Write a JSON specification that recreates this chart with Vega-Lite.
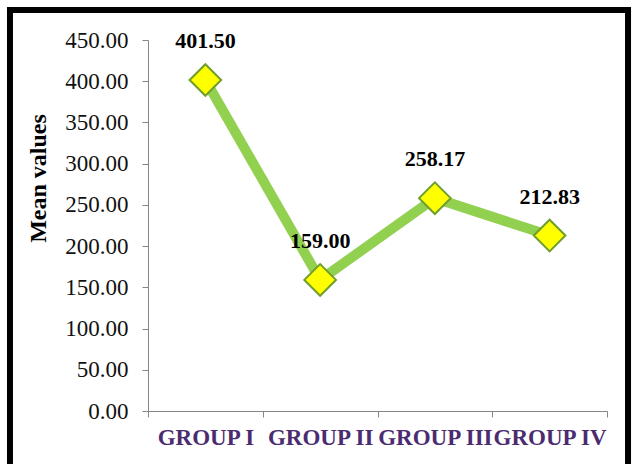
{
  "$schema": "https://vega.github.io/schema/vega-lite/v6.json",
  "width": 459,
  "height": 371,
  "autosize": {"type": "none"},
  "padding": {"left": 148, "top": 40, "right": 26, "bottom": 53},
  "background": "white",
  "config": {"view": {"stroke": null}, "font": "Liberation Serif, Times New Roman, serif"},
  "data": {"values": [
    {"group": "GROUP I", "mean": 401.5},
    {"group": "GROUP II", "mean": 159.0},
    {"group": "GROUP III", "mean": 258.17},
    {"group": "GROUP IV", "mean": 212.83}
  ]},
  "layer": [
    {
      "data": {"values": [{"frame": 1}]},
      "mark": {"type": "rect", "fill": null, "stroke": "black", "strokeWidth": 6},
      "encoding": {
        "x": {"datum": -0.3007, "type": "quantitative", "scale": {"domain": [0, 1]}, "axis": null},
        "x2": {"datum": 1.0458},
        "y": {"datum": 1.0809, "type": "quantitative", "scale": {"domain": [0, 1]}, "axis": null},
        "y2": {"datum": -0.3}
      }
    },
    {
      "layer": [
        {
          "mark": {"type": "line", "color": "#92d050", "strokeWidth": 10},
          "encoding": {}
        },
        {
          "mark": {"type": "point", "shape": "diamond", "size": 1000, "filled": true, "fill": "#ffff00", "stroke": "#6f9e2e", "strokeWidth": 2, "opacity": 1},
          "encoding": {}
        },
        {
          "mark": {"type": "text", "dy": -39, "fontSize": 22, "fontWeight": "bold", "color": "black", "font": "Liberation Serif, Times New Roman, serif"},
          "encoding": {"text": {"field": "mean", "type": "quantitative", "format": ".2f"}}
        }
      ],
      "encoding": {
        "x": {
          "field": "group", "type": "nominal", "sort": null,
          "scale": {"type": "band", "paddingInner": 0, "paddingOuter": 0},
          "axis": {
            "title": null, "labelAngle": 0, "tickBand": "extent",
            "labelFontSize": 23, "labelFontWeight": "bold", "labelColor": "#4b2c70",
            "labelPadding": 9, "tickSize": 6, "tickColor": "#868686", "domainColor": "#868686",
            "labelFont": "Liberation Serif, Times New Roman, serif"
          }
        },
        "y": {
          "field": "mean", "type": "quantitative",
          "scale": {"domain": [0, 450], "nice": false},
          "axis": {
            "title": "Mean values", "values": [0, 50, 100, 150, 200, 250, 300, 350, 400, 450],
            "format": ".2f", "grid": false, "labelFontSize": 23, "labelColor": "#111",
            "labelPadding": 14, "tickSize": 6, "tickColor": "#868686", "domainColor": "#868686",
            "titleFontSize": 24, "titleFontWeight": "bold", "titleColor": "black", "titlePadding": 14,
            "titleY": 138, "titleAlign": "center",
            "labelFont": "Liberation Serif, Times New Roman, serif", "titleFont": "Liberation Serif, Times New Roman, serif"
          }
        }
      }
    }
  ],
  "resolve": {"scale": {"x": "independent", "y": "independent"}}
}
